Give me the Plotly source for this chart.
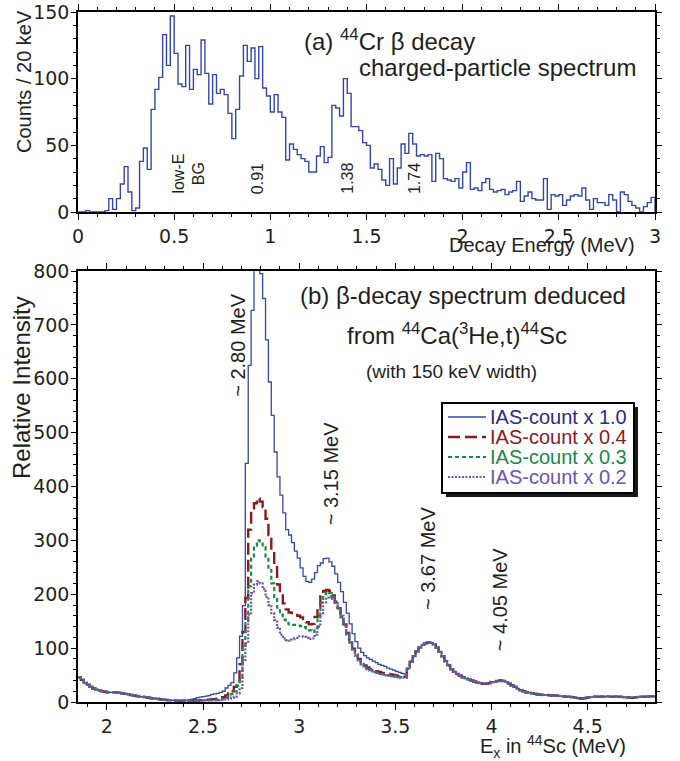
import numpy as np
import plotly.graph_objects as go

# ---------------- (a) 44Cr beta-decay charged-particle spectrum ----------------
cp_start = 0.0
cp_bin_width = 0.02  # MeV (20 keV bins)
cp_counts = [
    0, 0, 1, 0, 0, 0, 0, 1, 10, 2,
    10, 21, 34, 15, 1, 3, 38, 48, 32, 77,
    92, 101, 133, 110, 147, 119, 96, 94, 125, 92,
    107, 103, 129, 104, 81, 103, 89, 92, 88, 74,
    55, 77, 102, 125, 113, 123, 100, 124, 93, 87,
    75, 88, 75, 71, 39, 51, 47, 43, 40, 38,
    30, 30, 42, 49, 37, 41, 80, 78, 72, 100,
    89, 64, 64, 61, 52, 50, 33, 36, 32, 24,
    20, 40, 21, 33, 51, 44, 59, 51, 42, 43,
    42, 43, 23, 44, 40, 25, 24, 23, 25, 18,
    30, 37, 17, 18, 16, 22, 25, 17, 15, 16,
    17, 13, 15, 16, 23, 8, 12, 15, 10, 9,
    9, 25, 2, 13, 12, 13, 5, 9, 12, 13,
    12, 18, 9, 2, 10, 7, 7, 5, 13, 9,
    0, 15, 13, 8, 5, 3, 0, 4, 7, 11,
]
cp_peak_labels = ["low-E<br>BG", "0.91", "1.38", "1.74"]
cp_peak_pos = [0.575, 0.934, 1.40, 1.75]

# ---------------- (b) beta-decay spectrum from 44Ca(3He,t)44Sc ----------------
ex_start = 1.85
ex_bin_width = 0.015  # MeV
# shared part below the IAS region (1.85 - 2.39 MeV)
tail_low = [
    46, 41, 36, 32, 28, 25, 23, 21, 20, 19,
    18, 18, 18, 17.5, 17, 16, 15, 14, 13, 12,
    11, 10, 9.5, 9, 8, 7, 6.5, 6, 5, 4.5,
    4, 3.5, 3, 3, 2.5, 2.5, 2.5,
]
# shared part above the IAS region (3.56 - 4.835 MeV)
tail_high = [
    62, 75, 85, 94, 101, 106, 109, 111, 110, 107,
    101, 93, 85, 76, 68, 61, 56, 52, 49, 46,
    44, 42, 40, 38, 36, 35, 34, 34, 35, 37,
    38, 39, 40, 39, 37, 34, 31, 28, 25, 22,
    20, 18, 17, 16, 15, 14, 13.5, 13, 13, 12.5,
    12, 12, 11.5, 11, 10.5, 10, 9.5, 9, 8, 7,
    6.5, 7, 8, 9, 9.5, 10, 10, 10, 10, 10.5,
    10, 10, 10, 10, 9.5, 9, 8.5, 8, 8, 8.5,
    9.5, 10, 10, 10, 10.5, 10.5,
]
# IAS region (2.405 - 3.545 MeV) for each IAS-count scaling
ias_x10 = [
    3, 4, 5, 6, 8, 9, 10, 11, 12, 14,
    15, 16, 18, 20, 26, 31, 36, 54, 82, 122,
    179, 443, 625, 727, 900, 935, 795, 749, 672, 594,
    532, 464, 418, 384, 351, 320, 310, 296, 280, 267,
    249, 233, 224, 222, 228, 240, 253, 258, 266, 267,
    260, 252, 238, 222, 205, 185, 165, 145, 127, 112,
    100, 92, 86, 82, 79, 76, 73, 70, 68, 66,
    63, 61, 59, 57, 55, 53, 52,
]
ias_x04 = [
    2, 2, 2.5, 3, 3, 3.5, 4, 4, 4.5, 5,
    5, 6, 7, 9, 12, 16, 20, 28, 38, 70,
    130, 193, 320, 357, 369, 378, 372, 362, 340, 310,
    280, 250, 218, 198, 183, 172, 166, 165, 164, 160,
    157, 154, 148, 144, 145, 158, 178, 196, 206, 208,
    206, 198, 186, 174, 160, 144, 128, 112, 99, 88,
    80, 73, 68, 64, 61, 59, 57, 56, 54, 53,
    52, 51, 50, 49, 48, 47, 47,
]
ias_x03 = [
    2, 2, 2, 2.5, 2.5, 3, 3, 3.5, 3.5, 4,
    4, 4.5, 5, 6, 8, 11, 15, 20, 30, 42,
    100, 150, 215, 268, 290, 300, 298, 288, 268, 245,
    220, 195, 175, 162, 153, 147, 144, 143, 143, 142,
    141, 139, 136, 133, 130, 138, 160, 185, 200, 204,
    202, 195, 184, 171, 157, 141, 125, 110, 97, 86,
    78, 71, 66, 62, 59, 57, 55, 54, 52, 51,
    50, 49, 48, 47, 46, 46, 46,
]
ias_x02 = [
    2, 2, 2, 2, 2, 2.5, 2.5, 3, 3, 3,
    3, 3.5, 4, 4.5, 5, 6, 8, 10, 16, 26,
    78, 109, 162, 202, 218, 224, 220, 210, 195, 180,
    165, 152, 138, 125, 118, 115, 114, 116, 119, 122,
    122, 121, 119, 117, 118, 125, 140, 165, 185, 194,
    196, 192, 184, 174, 160, 144, 127, 111, 97, 86,
    77, 70, 65, 61, 58, 56, 54, 52, 51, 50,
    49, 48, 47, 46, 45, 45, 45,
]
assert len(cp_counts) == 150
assert len(tail_low) == 37 and len(tail_high) == 86
for s in (ias_x10, ias_x04, ias_x03, ias_x02):
    assert len(s) == 77, len(s)

series_names = ["IAS-count x 1.0", "IAS-count x 0.4", "IAS-count x 0.3", "IAS-count x 0.2"]
series_ias = [ias_x10, ias_x04, ias_x03, ias_x02]
series_line = ["#3347a8", "#8a1a1c", "#168a46", "#6e52b4"]
series_text = ["#2b2b7e", "#8a1a1c", "#168a46", "#6e52b4"]
series_dash = ["solid", "12px,5px", "4px,3px", "2px,1.5px"]
series_width = [1.3, 2.4, 2.2, 2.2]

ex_peak_labels = ["~ 2.80 MeV", "~ 3.15 MeV", "~ 3.67 MeV", "~ 4.05 MeV"]
ex_peak_pos = [(2.682, 663), (3.167, 425), (3.667, 268), (4.042, 190)]

FONT = "Liberation Sans, Arial, Helvetica, sans-serif"
TICKFONT = "DejaVu Sans, Liberation Sans, sans-serif"
TXT = "#231f20"

# figure pixel geometry (plot areas)
L, R, T, B = 78, 655, 12, 702
W, H = 680, 761


def px2paper_x(X):
    return (X - L) / float(R - L)


def px2paper_y(Y):
    return (B - Y) / float(B - T)


fig = go.Figure()

# panel (a) histogram as steps
cp_edges = cp_start + cp_bin_width * np.arange(len(cp_counts) + 1)
cp_x = np.concatenate([cp_edges, [cp_edges[-1]]])
cp_y = np.concatenate([cp_counts, [cp_counts[-1], 0]])
fig.add_trace(go.Scatter(x=cp_x, y=cp_y, mode="lines", line=dict(shape="hv", color="#3347a8", width=1.4),
                         xaxis="x", yaxis="y", showlegend=False, hoverinfo="skip"))

# panel (b) step curves
for name, ias, lc, dash, w in zip(series_names, series_ias, series_line, series_dash, series_width):
    vals = np.array(tail_low + ias + tail_high, dtype=float)
    edges = ex_start + ex_bin_width * np.arange(len(vals) + 1)
    yv = np.concatenate([vals, [vals[-1]]])
    fig.add_trace(go.Scatter(x=edges, y=yv, mode="lines",
                             line=dict(shape="hv", color=lc, width=w, dash=dash),
                             name=name, showlegend=False,
                             xaxis="x2", yaxis="y2", hoverinfo="skip"))

axis_common = dict(showline=True, linecolor="black", linewidth=1.5, mirror="ticks",
                   ticks="outside", tickwidth=1.2, tickcolor="black",
                   showgrid=False, zeroline=False, automargin=False,
                   tickfont=dict(family=TICKFONT, size=19, color=TXT))
minor_common = dict(ticklen=3, ticks="outside", tickcolor="black", tickwidth=1)

top_bottom_split = px2paper_y(212)
bottom_top = px2paper_y(271)

fig.update_layout(
    template="none",
    width=W, height=H,
    margin=dict(l=L, r=W - R, t=T, b=H - B, autoexpand=False),
    paper_bgcolor="white", plot_bgcolor="white",
    font=dict(family=FONT, color=TXT),
    showlegend=False,
    xaxis=dict(domain=[0, 1], range=[0, 3], anchor="y", dtick=0.5, tick0=0, ticklen=6,
               minor=dict(dtick=0.1, **minor_common), **axis_common),
    yaxis=dict(domain=[top_bottom_split, 1], range=[0, 150], anchor="x", dtick=50, tick0=0, ticklen=5,
               ticklabelstandoff=-2,
               minor=dict(dtick=10, **minor_common), **axis_common),
    xaxis2=dict(domain=[0, 1], range=[1.85, 4.85], anchor="y2", dtick=0.5, tick0=0, ticklen=6,
                minor=dict(dtick=0.1, **minor_common), **axis_common),
    yaxis2=dict(domain=[0, bottom_top], range=[0, 800], anchor="x2", dtick=100, tick0=0, ticklen=5,
                ticklabelstandoff=-2,
                minor=dict(dtick=20, **minor_common), **axis_common),
)

ann = []
# panel (a) texts
ann.append(dict(x=1.167, y=129, xref="x", yref="y", xanchor="left", yanchor="middle", showarrow=False,
                text="(a) <sup>44</sup>Cr β decay", font=dict(family=FONT, size=24, color=TXT)))
ann.append(dict(x=1.448, y=108.5, xref="x", yref="y", xanchor="left", yanchor="middle", showarrow=False,
                text="charged-particle spectrum", font=dict(family=FONT, size=24, color=TXT)))
for lab, px in zip(cp_peak_labels, cp_peak_pos):
    ann.append(dict(x=px, y=12, xref="x", yref="y", xanchor="center", yanchor="bottom", showarrow=False,
                    text=lab, textangle=-90, font=dict(family=FONT, size=16, color=TXT)))
# panel (b) texts
ann.append(dict(x=3.854, y=754, xref="x2", yref="y2", xanchor="center", yanchor="middle", showarrow=False,
                text="(b) β-decay spectrum deduced", font=dict(family=FONT, size=24, color=TXT)))
ann.append(dict(x=3.823, y=683, xref="x2", yref="y2", xanchor="center", yanchor="middle", showarrow=False,
                text="from <sup>44</sup>Ca(<sup>3</sup>He,t)<sup>44</sup>Sc", font=dict(family=FONT, size=24, color=TXT)))
ann.append(dict(x=3.79, y=613, xref="x2", yref="y2", xanchor="center", yanchor="middle", showarrow=False,
                text="(with 150 keV width)", font=dict(family=FONT, size=19, color=TXT)))
for lab, (px, py) in zip(ex_peak_labels, ex_peak_pos):
    ann.append(dict(x=px, y=py, xref="x2", yref="y2", xanchor="center", yanchor="middle", showarrow=False,
                    text=lab, textangle=-90, font=dict(family=FONT, size=20, color=TXT)))

# axis titles placed as in the figure
ann.append(dict(x=px2paper_x(24), y=px2paper_y(82), xref="paper", yref="paper", showarrow=False,
                text="Counts / 20 keV", textangle=-90, xanchor="center", yanchor="middle",
                font=dict(family=FONT, size=20, color=TXT)))
ann.append(dict(x=px2paper_x(21), y=px2paper_y(388), xref="paper", yref="paper", showarrow=False,
                text="Relative Intensity", textangle=-90, xanchor="center", yanchor="middle",
                font=dict(family=FONT, size=24, color=TXT)))
ann.append(dict(x=px2paper_x(637), y=px2paper_y(245), xref="paper", yref="paper", showarrow=False,
                text="Decay Energy (MeV)", xanchor="right", yanchor="middle",
                font=dict(family=FONT, size=20, color=TXT)))
ann.append(dict(x=px2paper_x(628), y=px2paper_y(746), xref="paper", yref="paper", showarrow=False,
                text="E<sub>x</sub> in <sup>44</sup>Sc (MeV)", xanchor="right", yanchor="middle",
                font=dict(family=FONT, size=20, color=TXT)))

# legend box (drawn like the original: framed box with a drop shadow)
shapes = []
lg_x0, lg_x1, lg_y0, lg_y1 = 442, 634, 403, 493
shapes.append(dict(type="rect", xref="paper", yref="paper", layer="above",
                   x0=px2paper_x(lg_x0 + 4), x1=px2paper_x(lg_x1 + 4),
                   y0=px2paper_y(lg_y1 + 4), y1=px2paper_y(lg_y0 + 4),
                   fillcolor="#1a1a1a", line=dict(width=0)))
shapes.append(dict(type="rect", xref="paper", yref="paper", layer="above",
                   x0=px2paper_x(lg_x0), x1=px2paper_x(lg_x1),
                   y0=px2paper_y(lg_y1), y1=px2paper_y(lg_y0),
                   fillcolor="white", line=dict(color="black", width=2)))
row_y = [417, 437, 457, 477]
for name, lc, tc, dash, w, ry in zip(series_names, series_line, series_text, series_dash, series_width, row_y):
    shapes.append(dict(type="line", xref="paper", yref="paper", layer="above",
                       x0=px2paper_x(448), x1=px2paper_x(486), y0=px2paper_y(ry), y1=px2paper_y(ry),
                       line=dict(color=lc, width=w, dash=dash)))
    ann.append(dict(x=px2paper_x(488), y=px2paper_y(ry), xref="paper", yref="paper", showarrow=False,
                    text=name, xanchor="left", yanchor="middle",
                    font=dict(family=FONT, size=20, color=tc)))

fig.update_layout(annotations=ann, shapes=shapes)

fig.write_html("out.html", config={"displayModeBar": False},
               post_script="document.body.style.margin='0';document.body.style.padding='0';")
